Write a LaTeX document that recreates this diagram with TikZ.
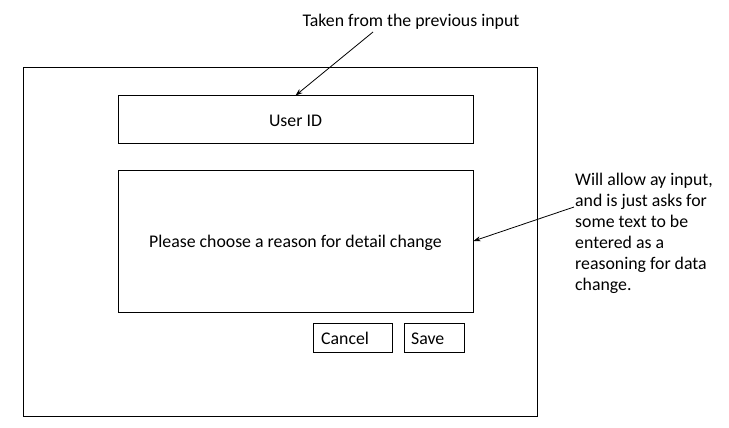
\documentclass[tikz,border=0pt]{standalone}
\usepackage{fontspec}
\setmainfont{Carlito}
\usetikzlibrary{arrows.meta}
\begin{document}
\begin{tikzpicture}[x=1pt,y=-1pt,
  every node/.style={font=\fontsize{17.8pt}{21pt}\selectfont},
  frame/.style={draw=black,line width=1pt,inner sep=0pt},
  btn/.style={draw=black,line width=1pt,inner sep=0pt,anchor=north west},
  label/.style={inner sep=0pt,anchor=base},
  note/.style={line width=0.8pt,-{Stealth[length=7pt,width=5pt]}}]
\useasboundingbox (0,0) rectangle (729,428);
\node[frame,minimum width=514pt,minimum height=348pt] (outer) at (280,242) {};
\node[frame,minimum width=355pt,minimum height=47pt] (userid) at (295.5,119.5) {};
\node[label] (useridtxt) at (295.5,126) {User ID};
\node[frame,minimum width=355pt,minimum height=142pt] (reason) at (295.5,241) {};
\node[label] (reasontxt) at (295.5,247) {Please choose a reason for detail change};
\node[btn,minimum width=79pt,minimum height=29pt] (cancel) at (313,323) {};
\node[anchor=base west,inner sep=0pt] (canceltxt) at (321,344) {Cancel};
\node[btn,minimum width=60pt,minimum height=29pt] (save) at (404,323) {};
\node[anchor=base west,inner sep=0pt] (savetxt) at (411,344) {Save};
\node[label] (taken) at (411,27) {Taken from the previous input};
\node[anchor=base west,inner sep=0pt,align=left] (will) at (575,290) {Will allow ay input,\\and is just asks for\\some text to be\\entered as a\\reasoning for data\\change.};
\coordinate (takenfoot) at (373,32);
\coordinate (willfoot) at (574,207);
\draw[note] (takenfoot) -- (userid.north);
\draw[note] (willfoot) -- (reason.east);
\end{tikzpicture}
\end{document}
